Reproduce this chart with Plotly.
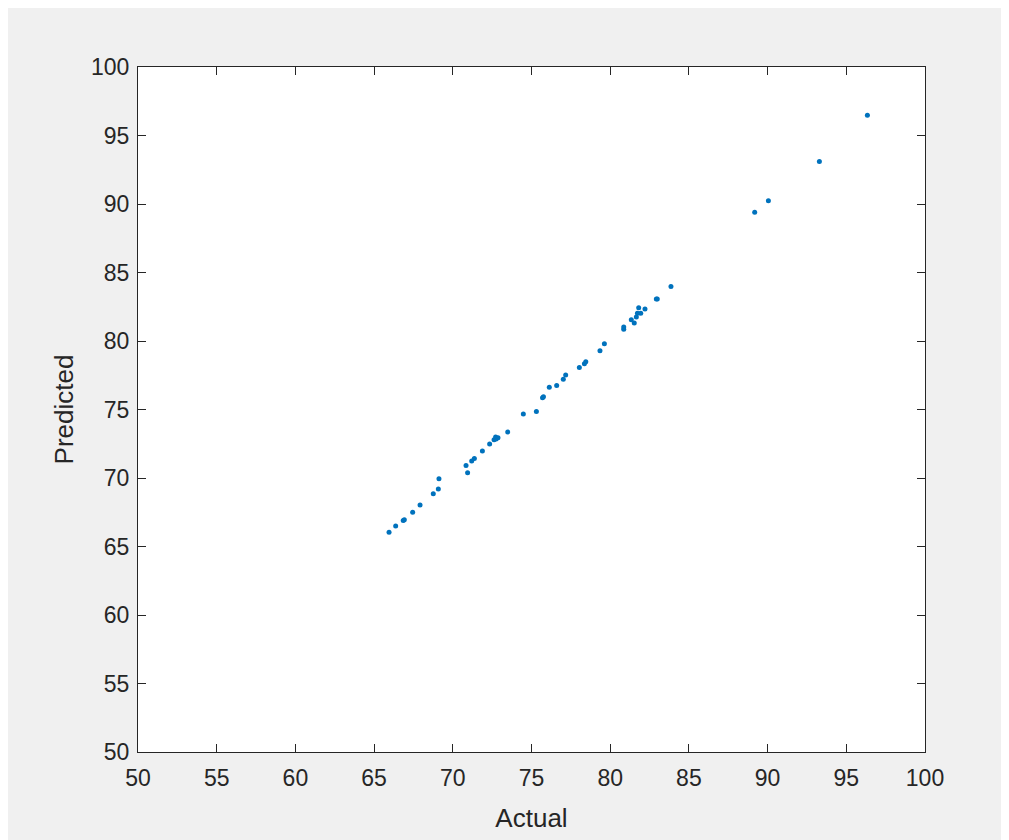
import plotly.graph_objects as go

actual = [65.95, 66.37, 66.85, 66.92, 67.45, 67.92, 68.76, 69.08, 69.12, 70.94, 70.84,
          71.20, 71.37, 71.88, 72.34, 72.62, 72.75, 72.72, 72.87, 73.49,
          74.48, 75.31, 75.70, 75.76, 76.13, 76.60, 77.02, 77.17, 78.04, 78.36, 78.45,
          79.35, 79.63, 80.86, 80.86, 81.34, 81.53, 81.66, 81.73, 81.94, 81.81, 82.21,
          82.93, 82.99, 83.86, 89.18, 90.05, 93.29, 96.34]
predicted = [66.04, 66.50, 66.90, 66.95, 67.50, 68.03, 68.85, 69.20, 69.95, 70.39, 70.92,
             71.24, 71.43, 71.97, 72.48, 72.79, 72.84, 73.00, 72.93, 73.36,
             74.67, 74.86, 75.85, 75.93, 76.62, 76.76, 77.20, 77.52, 78.07, 78.34, 78.48,
             79.29, 79.80, 80.86, 81.02, 81.55, 81.31, 81.75, 82.02, 82.02, 82.43, 82.34,
             83.07, 83.07, 83.97, 89.39, 90.24, 93.11, 96.47]

tick_vals = [50, 55, 60, 65, 70, 75, 80, 85, 90, 95, 100]
tick_text = [str(v) for v in tick_vals]

W, H = 1001, 832
L, R, T, B = 130, 84, 59, 88

fig = go.Figure()
fig.add_trace(go.Scatter(
    x=actual, y=predicted, mode="markers",
    marker=dict(size=5, color="#0072BD", line=dict(width=0)),
    showlegend=False, hoverinfo="x+y",
))

axis_common = dict(
    range=[50, 100], tickvals=tick_vals, ticktext=tick_text,
    ticks="inside", ticklen=8, tickwidth=1, tickcolor="#262626",
    showline=True, linecolor="#262626", linewidth=1, mirror="ticks",
    showgrid=False, zeroline=False,
    tickfont=dict(family="Liberation Sans, Arial, sans-serif", size=23, color="#262626"),
)

fig.update_layout(
    width=W, height=H,
    margin=dict(l=L, r=R, t=T, b=B, autoexpand=False),
    paper_bgcolor="#f0f0f0",
    plot_bgcolor="white",
    font=dict(family="Liberation Sans, Arial, sans-serif", color="#262626"),
    xaxis=dict(**axis_common, ticklabelstandoff=5,
               title=dict(text="Actual", font=dict(size=26, color="#262626"), standoff=19)),
    yaxis=dict(**axis_common, ticklabelstandoff=3,
               title=dict(text="Predicted", font=dict(size=26, color="#262626"), standoff=9)),
)

fig.write_html("out.html")
